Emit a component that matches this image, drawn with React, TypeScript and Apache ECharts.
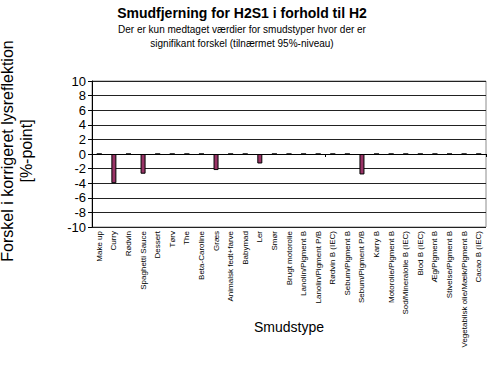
import React, { useEffect, useRef } from "react";
import * as echarts from "echarts";

const categories = [
  "Make up", "Curry", "Rødvin", "Spaghetti Sauce", "Dessert", "Tørv", "The",
  "Beta-Caroline", "Græs", "Animalsk fedt+farve", "Babymad", "Ler", "Smør",
  "Brugt motorolie", "Lanolin/Pigment B", "Lanolin/Pigment P/B", "Rødvin B (IEC)",
  "Sebum/Pigment B", "Sebum/Pigment P/B", "Karry B", "Motorolie/Pigment B",
  "Sod/Mineralolie B (IEC)", "Blod B (IEC)", "Æg/Pigment B", "Stivelse/Pigment B",
  "Vegetabilsk olie/Mælk/Pigment B", "Cacao B (IEC)",
];

const values = [
  0, -4.0, 0, -2.7, 0, 0, 0,
  0, -2.2, 0, 0, -1.3, 0,
  0, 0, 0, 0,
  0, -2.8, 0, 0,
  0, 0, 0, 0,
  0, 0,
];

const yTicks = { min: -10, max: 10, interval: 2 };

const titleText = "Smudfjerning for H2S1 i forhold til H2";
const subtitleLines = [
  "Der er kun medtaget værdier for smudstyper hvor der er",
  "signifikant forskel (tilnærmet 95%-niveau)",
];
const yTitleLines = ["Forskel i korrigeret lysreflektion", "[%-point]"];
const xTitle = "Smudstype";

export default function App() {
  const ref = useRef<HTMLDivElement>(null);
  useEffect(() => {
    if (!ref.current) return;
    const chart = echarts.init(ref.current, null, { renderer: "svg" });
    const font = "Arial, 'Liberation Sans', Helvetica, sans-serif";
    chart.setOption({
      animation: false,
      backgroundColor: "#ffffff",
      textStyle: { fontFamily: font },
      grid: {
        left: 92,
        top: 81,
        right: 4,
        bottom: 144,
        show: true,
        borderColor: "#8c8c8c",
        borderWidth: 1,
        containLabel: false,
      },
      graphic: [
        {
          type: "text",
          x: 242,
          y: 13,
          style: {
            text: titleText,
            font: `bold 14px ${font}`,
            align: "center",
            verticalAlign: "middle",
            fill: "#000",
          },
        },
        {
          type: "text",
          x: 242,
          y: 29,
          style: {
            text: subtitleLines[0],
            font: `10px ${font}`,
            align: "center",
            verticalAlign: "middle",
            fill: "#000",
          },
        },
        {
          type: "text",
          x: 242,
          y: 43,
          style: {
            text: subtitleLines[1],
            font: `10px ${font}`,
            align: "center",
            verticalAlign: "middle",
            fill: "#000",
          },
        },
        {
          type: "text",
          x: 17,
          y: 151,
          rotation: Math.PI / 2,
          style: {
            text: yTitleLines.join("\n"),
            font: `16px ${font}`,
            lineHeight: 19,
            align: "center",
            verticalAlign: "middle",
            fill: "#000",
          },
        },
        {
          type: "text",
          x: 289,
          y: 327,
          style: {
            text: xTitle,
            font: `14px ${font}`,
            align: "center",
            verticalAlign: "middle",
            fill: "#000",
          },
        },
      ],
      xAxis: [
        {
          type: "category",
          data: categories,
          position: "bottom",
          axisLine: { show: false, onZero: false },
          axisTick: { show: false },
          axisLabel: {
            rotate: 90,
            interval: 0,
            fontSize: 8,
            color: "#000",
            margin: 4,
            fontFamily: font,
          },
          splitLine: { show: false },
        },
        {
          type: "category",
          data: categories,
          position: "bottom",
          axisLine: { show: true, onZero: true, lineStyle: { color: "#000", width: 1 } },
          axisTick: { show: true, length: 3, lineStyle: { color: "#000" } },
          axisLabel: { show: false },
          splitLine: { show: false },
        },
      ],
      yAxis: {
        type: "value",
        min: yTicks.min,
        max: yTicks.max,
        interval: yTicks.interval,
        axisLine: { show: true, lineStyle: { color: "#000" } },
        axisTick: { show: true, length: 4, lineStyle: { color: "#000" } },
        axisLabel: { fontSize: 13, color: "#000", margin: 6, fontFamily: font },
        splitLine: { show: true, lineStyle: { color: "#222", width: 1 } },
      },
      series: [
        {
          type: "bar",
          xAxisIndex: 0,
          data: values,
          barWidth: 5,
          itemStyle: { color: "#993366", borderColor: "#000", borderWidth: 1 },
        },
      ],
    });
    return () => chart.dispose();
  }, []);
  return (
    <div
      ref={ref}
      style={{ position: "absolute", left: 0, top: 0, width: 490, height: 371 }}
    />
  );
}
